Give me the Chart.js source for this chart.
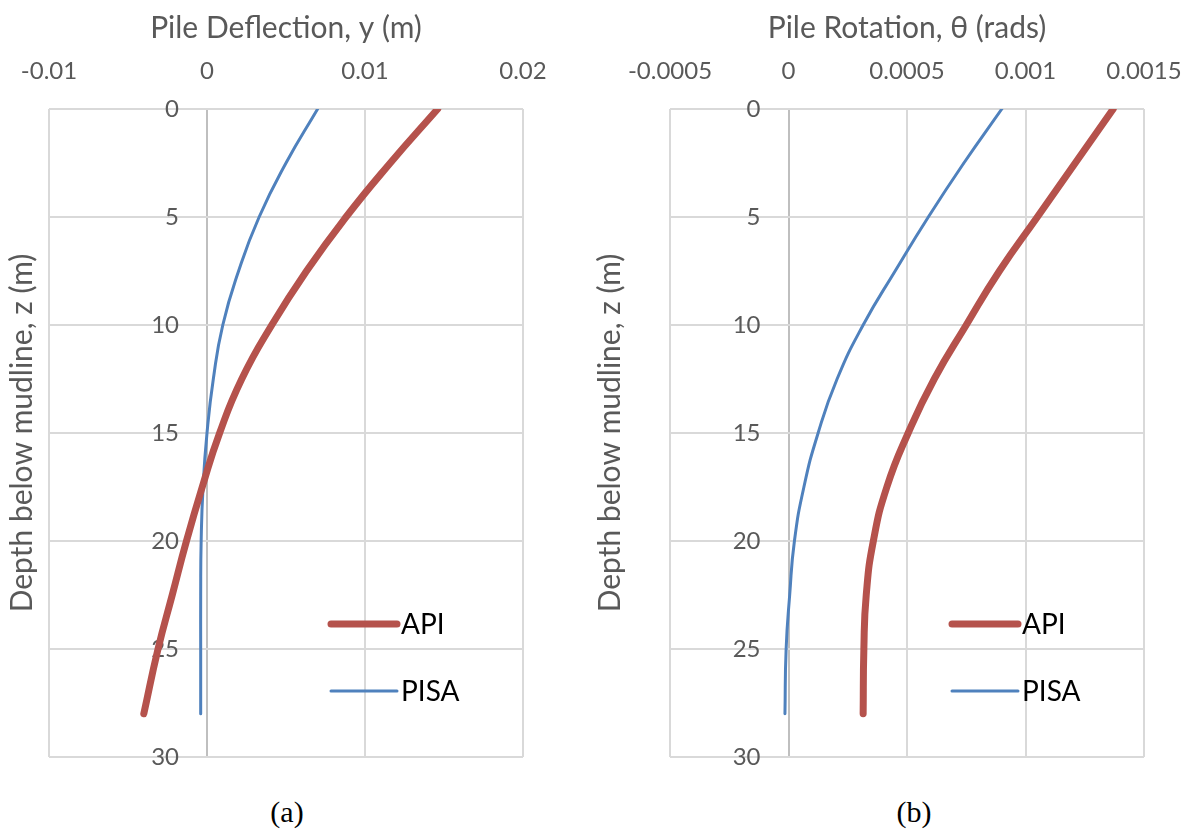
<!DOCTYPE html>
<html>
<head>
<meta charset="utf-8">
<script src="https://cdn.jsdelivr.net/npm/chart.js@4.4.1/dist/chart.umd.min.js"></script>
<style>
  html, body { margin: 0; padding: 0; background: #fff; }
  body { width: 1192px; height: 835px; position: relative; overflow: hidden; }
  .box { position: absolute; top: 0; height: 780px; }
  #boxA { left: 0; width: 590px; }
  #boxB { left: 590px; width: 602px; }
  .caption {
    position: absolute; top: 795px; width: 100px; text-align: center;
    font-family: "Liberation Serif", "DejaVu Serif", serif; font-size: 30px; color: #000;
  }
</style>
</head>
<body>
<div class="box" id="boxA"><canvas id="chartA"></canvas></div>
<div class="box" id="boxB"><canvas id="chartB"></canvas></div>
<div class="caption" style="left:237px">(a)</div>
<div class="caption" style="left:864px">(b)</div>

<script>
// Depth below mudline (m)
const depth = [0, 2.5, 5, 7.5, 10, 12.5, 15, 17.5, 20, 22.5, 25, 28];

// (a) pile deflection, y (m)
const apiDeflection  = [0.0146, 0.0116, 0.0088, 0.0063, 0.0041, 0.0022, 0.0008, -0.0003, -0.0013, -0.0022, -0.0031, -0.0040];
const pisaDeflection = [0.0070, 0.0050, 0.0033, 0.0020, 0.0010, 0.0004, 0.0000, -0.00025, -0.00037, -0.0004, -0.0004, -0.0004];

// (b) pile rotation, theta (rads)
const apiRotation  = [0.00137, 0.00121, 0.00105, 0.00089, 0.00075, 0.000615, 0.000505, 0.000415, 0.000358, 0.000328, 0.000318, 0.000315];
const pisaRotation = [0.00090, 0.00074, 0.00059, 0.00045, 0.000315, 0.000205, 0.000125, 0.000065, 0.000025, 0.000005, -0.00001, -0.000015];

// axis ticks
const depthTicks = [0, 5, 10, 15, 20, 25, 30];
const deflTicks  = [-0.01, 0, 0.01, 0.02];
const rotTicks   = [-0.0005, 0, 0.0005, 0.001, 0.0015];

const RED = '#B5524C';
const BLUE = '#4F81BD';
const GRID = '#D9D9D9';
const AXIS0 = '#BFBFBF';
const TXT = '#595959';
const FONT = 'Lato, "Open Sans", sans-serif';

function toPoints(values) {
  return depth.map((z, i) => ({ x: values[i], y: z }));
}

function fmt(v) {
  return String(Number(Number(v).toFixed(6)));
}

// y tick labels sit beside the zero line, like the Excel original
const depthLabels = {
  id: 'depthLabels',
  beforeDatasetsDraw(chart) {
    const { ctx, scales } = chart;
    const x0 = scales.x.getPixelForValue(0);
    ctx.save();
    ctx.font = '24px ' + FONT;
    ctx.fillStyle = TXT;
    ctx.textAlign = 'right';
    ctx.textBaseline = 'middle';
    scales.y.ticks.forEach(t => {
      ctx.fillText(fmt(t.value), x0 - 28, scales.y.getPixelForValue(t.value));
    });
    ctx.restore();
  }
};

// legend drawn inside the plot, lower right
const innerLegend = {
  id: 'innerLegend',
  afterDatasetsDraw(chart) {
    const { ctx, chartArea } = chart;
    const rows = [515, 582];
    ctx.save();
    chart.data.datasets.forEach((ds, i) => {
      const y = chartArea.top + rows[i];
      ctx.beginPath();
      ctx.strokeStyle = ds.borderColor;
      ctx.lineWidth = ds.borderWidth;
      ctx.lineCap = 'round';
      ctx.moveTo(chartArea.left + 282, y);
      ctx.lineTo(chartArea.left + 348, y);
      ctx.stroke();
      ctx.font = '28px ' + FONT;
      ctx.fillStyle = '#000';
      ctx.textAlign = 'left';
      ctx.textBaseline = 'middle';
      ctx.fillText(ds.label, chartArea.left + 352, y + 1);
    });
    ctx.restore();
  }
};

function makeChart(id, apiVals, pisaVals, xTicks, xTitle, yWidth, yTitlePad, padRight) {
  const ctx = document.getElementById(id).getContext('2d');
  return new Chart(ctx, {
    type: 'line',
    data: {
      datasets: [{
        label: 'API',
        data: toPoints(apiVals),
        borderColor: RED,
        borderWidth: 7,
        borderCapStyle: 'round',
        borderJoinStyle: 'round',
        pointRadius: 0,
        tension: 0.5,
      }, {
        label: 'PISA',
        data: toPoints(pisaVals),
        borderColor: BLUE,
        borderWidth: 3,
        borderCapStyle: 'round',
        borderJoinStyle: 'round',
        pointRadius: 0,
        tension: 0.5,
      }]
    },
    options: {
      indexAxis: 'y',
      responsive: true,
      maintainAspectRatio: false,
      animation: false,
      layout: { padding: { left: 0, right: padRight, top: 0, bottom: 23 } },
      plugins: {
        legend: { display: false },
        tooltip: { enabled: false }
      },
      scales: {
        x: {
          type: 'linear',
          position: 'top',
          min: xTicks[0],
          max: xTicks[xTicks.length - 1],
          afterBuildTicks: s => { s.ticks = xTicks.map(v => ({ value: v })); },
          afterFit: s => { s.height = 109; s.paddingLeft = 0; s.paddingRight = 0; },
          ticks: {
            color: TXT,
            font: { family: FONT, size: 24 },
            padding: 23,
            maxRotation: 0,
            callback: v => fmt(v)
          },
          grid: {
            drawTicks: false,
            lineWidth: 2,
            color: c => (c.tick && c.tick.value === 0 ? AXIS0 : GRID)
          },
          border: { display: false },
          title: {
            display: true,
            text: xTitle,
            color: TXT,
            font: { family: FONT, size: 30 },
            padding: { top: 10, bottom: 0 }
          }
        },
        y: {
          type: 'linear',
          position: 'left',
          reverse: true,
          min: 0,
          max: 30,
          afterBuildTicks: s => { s.ticks = depthTicks.map(v => ({ value: v })); },
          afterFit: s => { s.width = yWidth; s.paddingTop = 0; s.paddingBottom = 0; },
          ticks: { display: false },
          grid: { drawTicks: false, lineWidth: 2, color: GRID },
          border: { display: false },
          title: {
            display: true,
            text: 'Depth below mudline, z (m)',
            color: TXT,
            font: { family: FONT, size: 30 },
            padding: { top: yTitlePad, bottom: 0 }
          }
        }
      }
    },
    plugins: [depthLabels, innerLegend]
  });
}

makeChart('chartA', apiDeflection, pisaDeflection, deflTicks, 'Pile Deflection, y (m)', 49, 4, 67);
makeChart('chartB', apiRotation, pisaRotation, rotTicks, 'Pile Rotation, \u03B8 (rads)', 80, 2, 48);
</script>
</body>
</html>
